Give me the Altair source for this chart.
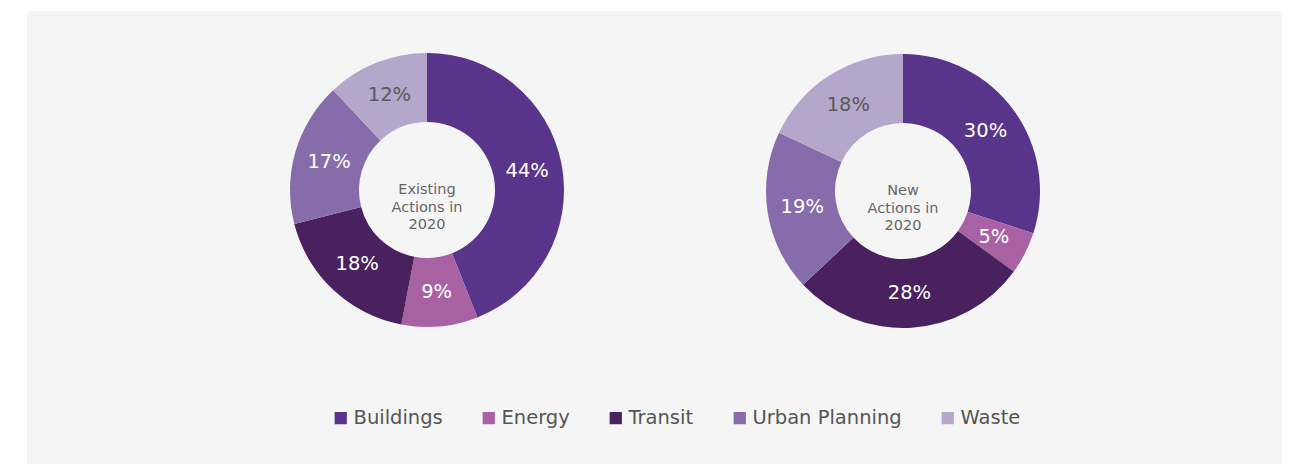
import altair as alt
import pandas as pd

categories = ["Buildings", "Energy", "Transit", "Urban Planning", "Waste"]
existing_values = [44, 9, 18, 17, 12]
new_values = [30, 5, 28, 19, 18]
colors = ["#58348a", "#a862a4", "#48215e", "#866cab", "#b5a6cc"]
label_colors = ["#ffffff", "#ffffff", "#ffffff", "#ffffff", "#5a5a5a"]
center_existing = ["Existing", "Actions in", "2020"]
center_new = ["New", "Actions in", "2020"]

rows = []
for grp, vals in (("existing", existing_values), ("new", new_values)):
    for i, (c, v) in enumerate(zip(categories, vals)):
        rows.append({"group": grp, "category": c, "order": i, "value": v,
                     "label": f"{v}%", "lc": label_colors[i]})
df = pd.DataFrame(rows)

FONT = "DejaVu Sans"
WEIGHT = "normal"
color_scale = alt.Scale(domain=categories, range=colors)


def donut(grp, cx, cy, center_lines):
    base = alt.Chart(df).transform_filter(alt.datum.group == grp)
    arc = base.mark_arc(innerRadius=68, outerRadius=137, stroke=None).encode(
        theta=alt.Theta("value:Q", stack=True),
        color=alt.Color(
            "category:N", scale=color_scale, sort=categories,
            legend=alt.Legend(
                title=None, orient="none", direction="horizontal",
                legendX=304, legendY=397, symbolType="square", symbolSize=150,
                symbolStrokeWidth=0, labelFont=FONT, labelFontSize=19.5,
                labelFontWeight=WEIGHT,
                labelColor="#555555", columnPadding=36, labelOffset=3,
                symbolOffset=0,
            ),
        ),
        order=alt.Order("order:Q"),
        x=alt.value(cx), y=alt.value(cy),
    )
    txt = base.mark_text(radius=102, font=FONT, fontSize=19.5, fontWeight=WEIGHT,
                         align="center", baseline="middle").encode(
        theta=alt.Theta("value:Q", stack=True),
        order=alt.Order("order:Q"),
        text="label:N",
        color=alt.Color("lc:N", scale=None),
        x=alt.value(cx), y=alt.value(cy),
    )
    center = alt.Chart(pd.DataFrame({"t": ["\n".join(center_lines)]})).mark_text(
        font=FONT, fontSize=14.5, fontWeight=WEIGHT, color="#666666", lineBreak="\n",
        lineHeight=17.5, align="center", baseline="middle",
    ).encode(text="t:N", x=alt.value(cx), y=alt.value(cy))
    return [arc, txt, center]


layers = donut("existing", 400, 179, center_existing) + donut("new", 876, 180, center_new)

chart = alt.layer(*layers).resolve_scale(theta="independent").properties(
    width=1255, height=453,
    autosize=alt.AutoSizeParams(type="none"),
    padding={"left": 19, "top": 3, "right": 0, "bottom": 0},
    background="#ffffff",
).configure_view(fill="#f5f5f5", strokeWidth=0)

chart.save("out.html", embed_options={"renderer": "svg", "actions": False})
